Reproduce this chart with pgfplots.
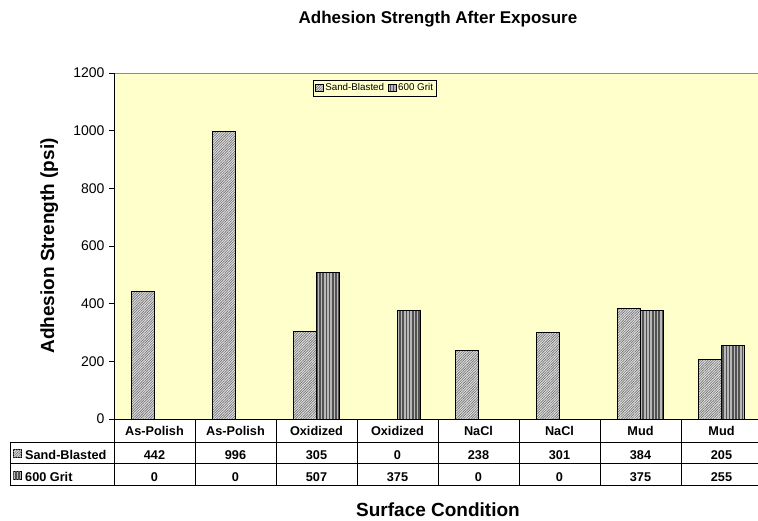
\documentclass[border=0pt]{standalone}
\usepackage{fontspec}
\setmainfont{Liberation Sans}
\usepackage{pgfplots}
\pgfplotsset{compat=1.18}
\usepackage{pgfplotstable}
\usetikzlibrary{patterns.meta}
\definecolor{plotbg}{HTML}{FFFFCC}

\pgfplotstableread{
x cat sb grit
0 As-Polish 442 0
1 As-Polish 996 0
2 Oxidized 305 507
3 Oxidized 0 375
4 NaCl 238 0
5 NaCl 301 0
6 Mud 384 375
7 Mud 205 255
}\datatable

\newcommand{\tablefont}{\bfseries\fontsize{12.7}{15}\selectfont}

\tikzset{
  sbpat/.style={fill=black!12, postaction={pattern={Lines[angle=45,distance=1.8pt,line width=0.65pt]}, pattern color=black!55}},
  gritpat/.style={fill=black!28, postaction={pattern={Lines[angle=90,distance=3.2pt,line width=1.5pt]}, pattern color=black!68}},
}

\begin{document}
\begin{tikzpicture}
\begin{axis}[
  at={(114pt,-419pt)}, anchor=south west,
  scale only axis, width=648pt, height=346pt,
  xmin=-0.5, xmax=7.5, ymin=0, ymax=1200,
  clip=false,
  axis background/.style={fill=plotbg},
  axis line style={draw=black!45, line width=0.8pt},
  xtick={-0.5,0.5,...,7.5}, xticklabels={},
  ytick={0,200,...,1200},
  tick align=outside, major tick length=5pt,
  ytick pos=left, xtick pos=bottom,
  tick style={black, line width=0.8pt},
  /pgf/number format/assume math mode=true,
  /pgf/number format/1000 sep={},
  yticklabel style={font=\fontsize{14}{16}\selectfont, xshift=-1pt},
  legend columns=2,
  legend style={at={(0.403,0.98)}, anchor=north, draw=black, line width=0.6pt,
    fill=none, font=\fontsize{9.8}{11}\selectfont, inner sep=1.5pt,
    /tikz/every even column/.append style={column sep=2pt}},
  legend image code/.code={\draw[#1, line width=0.5pt] (0pt,-3.5pt) rectangle (7.5pt,4pt);},
]
\addplot[ybar, bar width=23pt, bar shift=-11.5pt, draw=black, line width=0.8pt, sbpat]
  table[x=x, y=sb]{\datatable};
\addlegendentry{Sand-Blasted}
\addplot[ybar, bar width=23pt, bar shift=11.5pt, draw=black, line width=0.8pt, gritpat]
  table[x=x, y=grit]{\datatable};
\addlegendentry{600 Grit}

% data table rows (text from the data)
\addplot[draw=none, mark=none, forget plot, nodes near coords, point meta=explicit symbolic,
  every node near coord/.append style={anchor=base, yshift=-16.5pt, font=\tablefont, inner sep=0pt}]
  table[x=x, y expr=0, meta=cat]{\datatable};
\addplot[draw=none, mark=none, forget plot, nodes near coords, point meta=explicit symbolic,
  every node near coord/.append style={anchor=base, yshift=-40pt, font=\tablefont, inner sep=0pt}]
  table[x=x, y expr=0, meta=sb]{\datatable};
\addplot[draw=none, mark=none, forget plot, nodes near coords, point meta=explicit symbolic,
  every node near coord/.append style={anchor=base, yshift=-62pt, font=\tablefont, inner sep=0pt}]
  table[x=x, y expr=0, meta=grit]{\datatable};

\draw[black, line width=0.8pt] (rel axis cs:0,1) -- (rel axis cs:0,0) -- (rel axis cs:1,0);
\end{axis}

\begin{scope}[x=1pt, y=1pt]
  % table grid
  \draw[black, line width=0.8pt] (10,-442) -- (770,-442);
  \draw[black, line width=0.8pt] (10,-463) -- (770,-463);
  \draw[black, line width=0.8pt] (10,-485) -- (770,-485);
  \draw[black, line width=0.8pt] (10,-442) -- (10,-485);
  \foreach \i in {0,...,8} {
    \draw[black, line width=0.8pt] ({114+81*\i},-419) -- ({114+81*\i},-485);
  }
  % row headers
  \draw[sbpat, draw=black, line width=0.5pt] (13,-457.5) rectangle (21.5,-449);
  \node[anchor=base west, font=\tablefont, inner sep=0pt] at (25,-459) {Sand-Blasted};
  \draw[gritpat, draw=black, line width=0.5pt] (13,-479.5) rectangle (21.5,-471);
  \node[anchor=base west, font=\tablefont, inner sep=0pt] at (25,-481) {600 Grit};
  % titles
  \node[anchor=base, font=\bfseries\fontsize{17}{20}\selectfont, inner sep=0pt] at (438,-24) {Adhesion Strength After Exposure};
  \node[anchor=base, font=\bfseries\fontsize{19}{22}\selectfont, inner sep=0pt] at (438,-516) {Surface Condition};
  \node[anchor=base, rotate=90, font=\bfseries\fontsize{19}{22}\selectfont, inner sep=0pt] at (54,-246) {Adhesion Strength (psi)};
  % crop to the reference frame
  \pgfresetboundingbox
  \path[use as bounding box] (0,0) rectangle (758,-521);
\end{scope}
\end{tikzpicture}
\end{document}
